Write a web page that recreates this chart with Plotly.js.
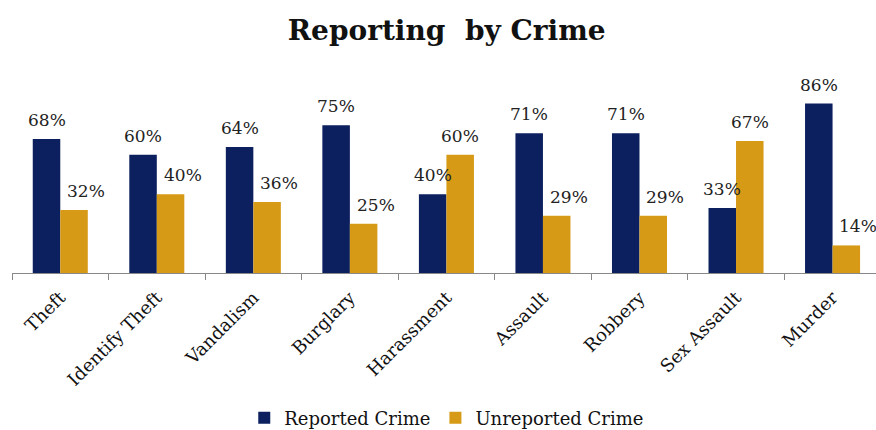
<!DOCTYPE html>
<html><head><meta charset="utf-8">
<script src="https://cdn.plot.ly/plotly-3.0.1.min.js"></script>
<style>html,body{margin:0;padding:0;overflow:hidden;background:#fff}</style>
</head><body><div id="c" style="width:876px;height:430px"></div>
<script>
const categories = ["Theft","Identify Theft","Vandalism","Burglary","Harassment","Assault","Robbery","Sex Assault","Murder"];
const reported = [68,60,64,75,40,71,71,33,86];
const unreported = [32,40,36,25,60,29,29,67,14];
const seriesNames = ["Reported Crime","Unreported Crime"];
const font = "DejaVu Serif, serif";
const colors = ["#0c1f5e", "#d69a16"];
const bargap = 0.43;
const half = (1 - bargap) / 4; // offset of each bar centre from category centre

const mk = (vals, name, color) => ({
  type: "bar", x: categories, y: vals, name: name,
  marker: {color: color}, hoverinfo: "none"
});
const data = [mk(reported, seriesNames[0], colors[0]), mk(unreported, seriesNames[1], colors[1])];

const annotations = [];
categories.forEach((c, i) => {
  annotations.push({x: i - half, y: reported[i], xref: "x", yref: "y", text: reported[i] + "%",
    showarrow: false, yanchor: "bottom", yshift: 7,
    font: {family: font, size: 17, color: "#222"}});
  const shift = unreported[i] < reported[i] ? 12 : 0; // label nudged right beside tall neighbour
  annotations.push({x: i + half, y: unreported[i], xref: "x", yref: "y", text: unreported[i] + "%",
    showarrow: false, yanchor: "bottom", yshift: 7, xshift: shift,
    font: {family: font, size: 17, color: "#222"}});
});

const layout = {
  width: 876, height: 430,
  margin: {l: 12, r: 0, t: 76, b: 157},
  paper_bgcolor: "#fff", plot_bgcolor: "#fff",
  title: {text: "Reporting  by Crime", x: 0.51, xanchor: "center", y: 0.93, yanchor: "middle",
          font: {family: font, size: 28, weight: "bold", color: "#111"}},
  barmode: "group", bargap: bargap, bargroupgap: 0,
  xaxis: {range: [-0.5, 8.45], showline: true, linecolor: "#888", linewidth: 1,
          ticks: "outside", tickson: "boundaries", ticklen: 6, tickcolor: "#888",
          tickangle: -45, tickfont: {family: font, size: 18, color: "#111"},
          ticklabelstandoff: 6,
          showgrid: false, zeroline: false, fixedrange: true, automargin: false},
  yaxis: {range: [0, 100], visible: false, showgrid: false, zeroline: false, automargin: false},
  annotations: annotations,
  showlegend: true,
  legend: {orientation: "h", x: 0.51, xanchor: "center", xref: "container",
           y: 0.028, yanchor: "middle", yref: "container",
           font: {family: font, size: 18, color: "#111"}, itemwidth: 30, traceorder: "normal"}
};
Plotly.newPlot("c", data, layout, {displayModeBar: false, staticPlot: true});
</script></body></html>
